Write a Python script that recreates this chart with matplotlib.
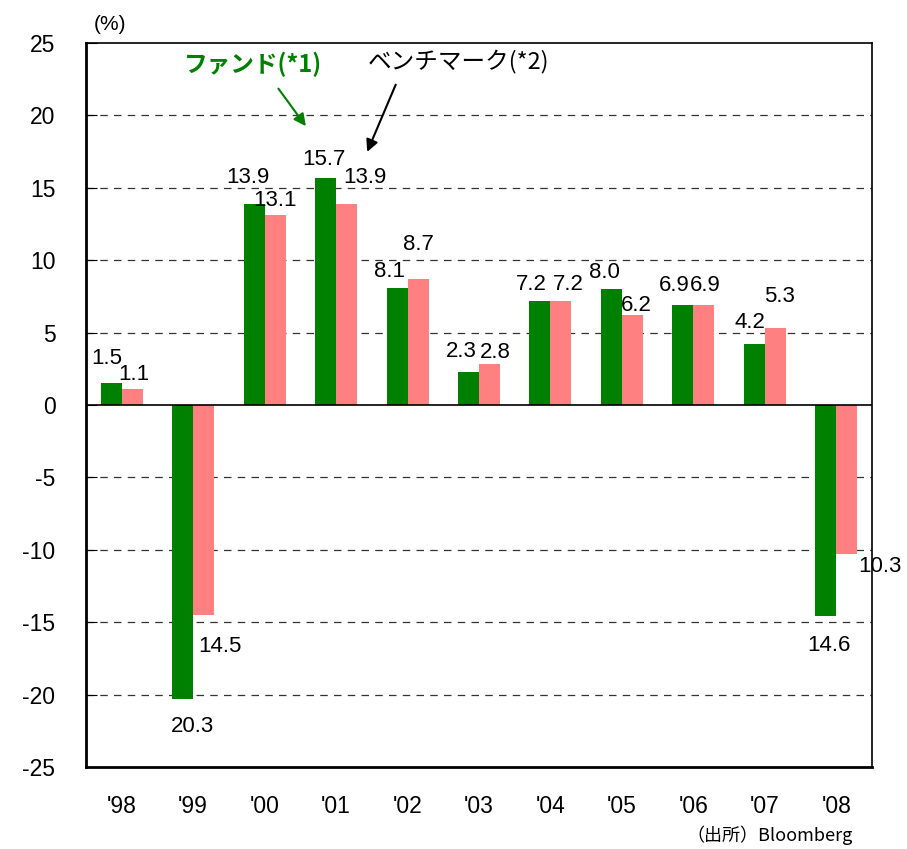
import matplotlib
matplotlib.use("Agg")
import matplotlib.pyplot as plt
import numpy as np

plt.rcParams['font.family'] = ['Liberation Sans', 'Noto Sans CJK JP', 'DejaVu Sans']

# データ
years = ["'98", "'99", "'00", "'01", "'02", "'03", "'04", "'05", "'06", "'07", "'08"]
fund = [1.5, -20.3, 13.9, 15.7, 8.1, 2.3, 7.2, 8.0, 6.9, 4.2, -14.6]
bench = [1.1, -14.5, 13.1, 13.9, 8.7, 2.8, 7.2, 6.2, 6.9, 5.3, -10.3]

# ラベルのずらし量 (pixels)
fund_off = [(-4, 25), (10, -28), (-6, 26), (-2, 18), (-8, 16), (-7, 20),
            (-9, 16), (-7, 17), (-9, 20), (-4, 22), (3, -29)]
bench_off = [(2, 15), (16, -32), (0, 15), (18, 26), (0, 34), (6, 12),
             (7, 16), (4, 10), (1, 20), (4, 32), (33, -12)]

fig = plt.figure(figsize=(9.07, 8.49), dpi=100)
ax = fig.add_axes([0.0948, 0.0966, 0.8666, 0.8528])

x = np.arange(len(years))
w = 0.294
ax.bar(x - w / 2, fund, w, color='#008000', zorder=3)
ax.bar(x + w / 2, bench, w, color='#FF8080', zorder=3)

for i in range(len(years)):
    for v, off, xc in ((fund[i], fund_off[i], x[i] - w / 2), (bench[i], bench_off[i], x[i] + w / 2)):
        ax.annotate(f"{abs(v):.1f}", (xc, v), xytext=off, textcoords='offset pixels',
                    ha='center', va='center', fontsize=16, zorder=4)

ax.set_xlim(-0.5, len(years) - 0.5)
ax.set_ylim(-25, 25)
ax.set_yticks(np.arange(-25, 26, 5))
ax.set_yticklabels([str(t) for t in range(-25, 26, 5)], fontsize=16.5)
ax.set_xticks(x)
ax.set_xticklabels(years, fontsize=16.5)
ax.tick_params(axis='x', length=0, pad=20)
ax.tick_params(axis='y', direction='in', length=8, pad=22)

for t in range(-20, 25, 5):
    if t != 0:
        ax.axhline(t, color='#333333', lw=0.9, ls=(0, (6, 5)), zorder=1)
ax.axhline(0, color='black', lw=1.2, zorder=4)

for s in ax.spines.values():
    s.set_linewidth(1.2)
ax.spines['left'].set_linewidth(2)
ax.spines['bottom'].set_linewidth(2)

# 注記
ax.annotate('', xy=(2.6, 19.1), xytext=(2.17, 22.0),
            arrowprops=dict(arrowstyle='-|>', color='#008000', lw=1.5, mutation_scale=18))
ax.text(1.84, 23.5, 'ファンド(*1)', color='#008000', fontsize=17, fontweight='bold',
        ha='center', va='center', family=['Noto Sans CJK JP'])
ax.annotate('', xy=(3.42, 17.3), xytext=(3.85, 22.3),
            arrowprops=dict(arrowstyle='-|>', color='black', lw=1.5, mutation_scale=18))
ax.text(4.71, 23.7, 'ベンチマーク(*2)', color='black', fontsize=17,
        ha='center', va='center', family=['Noto Sans CJK JP'])

fig.text(110 / 907, 1 - 25 / 849, '(%)', fontsize=15, ha='center', va='center')
fig.text(770 / 907, 1 - 835 / 849, '（出所）Bloomberg', fontsize=13, ha='center', va='center',
         family=['Noto Sans CJK JP'])

fig.savefig('out.png', dpi=100)
